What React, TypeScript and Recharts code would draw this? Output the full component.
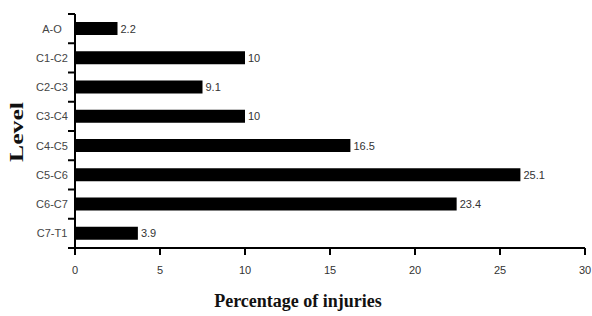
import React from 'react';
import { BarChart, Bar, XAxis, YAxis, LabelList, Label } from 'recharts';

const levels = ['A-O', 'C1-C2', 'C2-C3', 'C3-C4', 'C4-C5', 'C5-C6', 'C6-C7', 'C7-T1'];
const barLengths = [2.5, 10.0, 7.5, 10.0, 16.2, 26.2, 22.45, 3.7];
const valueLabels = ['2.2', '10', '9.1', '10', '16.5', '25.1', '23.4', '3.9'];
const xTicks = [0, 5, 10, 15, 20, 25, 30];

const data = levels.map((level, i) => ({ level, value: barLengths[i], label: valueLabels[i] }));

const W = 592;
const H = 316;
const M = { top: 14, right: 7, left: 0, bottom: 0 };
const Y_W = 75;
const X_H = 68;
const PLOT_H = H - M.top - M.bottom - X_H;
const BAND = PLOT_H / levels.length;
const AXIS_X = M.left + Y_W;

const YTick = (props: any) => {
  const { y, payload } = props;
  const top = y - BAND / 2;
  const bottom = y + BAND / 2;
  const isLast = payload.value === levels[levels.length - 1];
  return (
    <g>
      <text x={52} y={y} dy={4} textAnchor="middle" fontSize={11} fill="#444" fontFamily="Liberation Sans, Arial, sans-serif">
        {payload.value}
      </text>
      <line x1={AXIS_X - 7} x2={AXIS_X} y1={top} y2={top} stroke="#000" strokeWidth={2} />
      {isLast && (
        <line x1={AXIS_X - 7} x2={AXIS_X} y1={bottom} y2={bottom} stroke="#000" strokeWidth={2} />
      )}
    </g>
  );
};

const ValueLabel = (props: any) => {
  const { x, y, width, height, index } = props;
  return (
    <text x={x + width + 3} y={y + height / 2} dy={4} fontSize={11} fill="#333" fontFamily="Liberation Sans, Arial, sans-serif">
      {valueLabels[index]}
    </text>
  );
};

const LevelLabel = (props: any) => {
  const cx = 17;
  const cy = 132;
  return (
    <text
      transform={`translate(${cx},${cy}) rotate(-90) scale(1.35,1)`}
      x={0}
      y={6}
      textAnchor="middle"
      fontSize={19}
      fontWeight="bold"
      fill="#111"
      fontFamily="Liberation Serif, Times New Roman, serif"
    >
      Level
    </text>
  );
};

const XTitle = (props: any) => (
  <text
    x={298}
    y={307}
    textAnchor="middle"
    fontSize={18}
    fontWeight="bold"
    fill="#111"
    fontFamily="Liberation Serif, Times New Roman, serif"
  >
    Percentage of injuries
  </text>
);

export default function App() {
  return (
    <div style={{ position: 'absolute', left: 0, top: 0, width: W, height: H, background: '#fff' }}>
      <BarChart width={W} height={H} data={data} layout="vertical" margin={M} barCategoryGap={0}>
        <XAxis
          type="number"
          domain={[0, 30]}
          ticks={xTicks}
          height={X_H}
          axisLine={{ stroke: '#000', strokeWidth: 2 }}
          tickLine={{ stroke: '#000', strokeWidth: 2 }}
          tickSize={7}
          tickMargin={11}
          tick={{ fontSize: 11, fill: '#333', fontFamily: 'Liberation Sans, Arial, sans-serif' }}
        >
          <Label content={<XTitle />} />
        </XAxis>
        <YAxis
          type="category"
          dataKey="level"
          width={Y_W}
          axisLine={{ stroke: '#000', strokeWidth: 2 }}
          tickLine={false}
          tick={<YTick />}
          interval={0}
        >
          <Label content={<LevelLabel />} />
        </YAxis>
        <Bar dataKey="value" fill="#000" barSize={13} isAnimationActive={false}>
          <LabelList dataKey="label" content={<ValueLabel />} />
        </Bar>
      </BarChart>
    </div>
  );
}
